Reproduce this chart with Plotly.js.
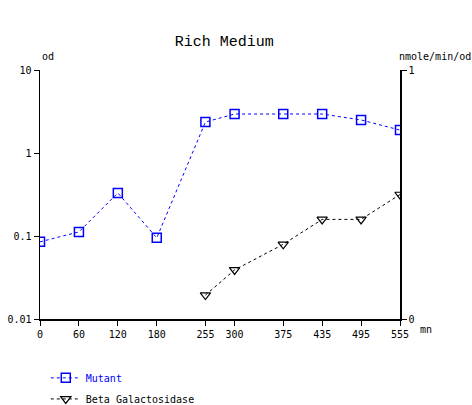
<!DOCTYPE html>
<html><head><meta charset="utf-8">
<script src="https://cdn.plot.ly/plotly-3.0.1.min.js"></script>
<style>body{margin:0;background:#fff}#c{width:472px;height:405px}</style>
</head><body><div id="c"></div>
<script>
const times = [0, 60, 120, 180, 255, 300, 375, 435, 495, 555];
const mutantOD = [0.085, 0.112, 0.33, 0.095, 2.36, 2.95, 2.95, 2.95, 2.5, 1.89];
const betaTimes = [255, 300, 375, 435, 495, 555];
const betaGal = [0.096, 0.197, 0.30, 0.40, 0.40, 0.50];
const leftTicks = [0.01, 0.1, 1, 10];
const leftTickText = ['0.01', '0.1', '1', '10'];

const F = 'DejaVu Sans Mono, monospace';
const traces = [
  {x: times, y: mutantOD, type: 'scatter', mode: 'lines+markers',
   name: '<span style="color:#0000ff">Mutant</span>',
   line: {color: '#0000ff', width: 1, dash: 'dot'},
   marker: {symbol: 'square-open', size: 9, color: '#0000ff', line: {width: 1.5}},
   legend: 'legend'},
  {x: betaTimes, y: betaGal, type: 'scatter', mode: 'lines+markers', yaxis: 'y2',
   name: 'Beta Galactosidase',
   line: {color: '#000000', width: 1, dash: '3px,3px'},
   marker: {symbol: 'triangle-down-open', size: 9, color: '#000000', line: {width: 1.2}},
   legend: 'legend2'}
];
const layout = {
  width: 472, height: 405,
  margin: {l: 40, r: 72, t: 70, b: 86, autoexpand: false},
  paper_bgcolor: '#fff', plot_bgcolor: '#fff',
  font: {family: F, size: 10, color: '#000'},
  title: {text: 'Rich Medium', font: {family: 'Liberation Mono', size: 15, color: '#000'}, x: 0.475, xanchor: 'center', y: 0.9, yanchor: 'middle'},
  showlegend: true,
  legend: {xref: 'container', yref: 'container', x: 0.097, y: 0.067, xanchor: 'left', yanchor: 'middle', bgcolor: 'rgba(0,0,0,0)', font: {family: F, size: 10}},
  legend2: {xref: 'container', yref: 'container', x: 0.097, y: 0.015, xanchor: 'left', yanchor: 'middle', bgcolor: 'rgba(0,0,0,0)', font: {family: F, size: 10, color: '#000'}},
  xaxis: {range: [0, 555], tickvals: times, ticktext: times.map(String), ticks: 'outside', ticklen: 5, tickangle: 0, automargin: false,
          showline: true, linecolor: '#000', linewidth: 1.5, showgrid: false, zeroline: false, tickcolor: '#000', tickfont: {family: F, size: 10}},
  yaxis: {type: 'log', range: [-2, 1], tickvals: leftTicks, ticktext: leftTickText, ticks: 'outside', ticklen: 5, automargin: false,
          showline: true, linecolor: '#000', linewidth: 1.5, showgrid: false, zeroline: false, tickcolor: '#000', tickfont: {family: F, size: 10}},
  yaxis2: {overlaying: 'y', side: 'right', range: [0, 1], tickvals: [0, 1], ticks: 'outside', ticklen: 5, automargin: false,
          showline: true, linecolor: '#000', linewidth: 1.5, showgrid: false, zeroline: false, tickcolor: '#000', tickfont: {family: F, size: 10}},
  annotations: [
    {text: 'od', xref: 'paper', yref: 'paper', x: 0.0, y: 1, xanchor: 'left', yanchor: 'bottom', yshift: 6, showarrow: false, font: {family: F, size: 10}},
    {text: 'nmole/min/od', xref: 'paper', yref: 'paper', x: 1, y: 1, xanchor: 'left', yanchor: 'bottom', xshift: -3, yshift: 6, showarrow: false, font: {family: F, size: 10}},
    {text: 'mn', xref: 'paper', yref: 'paper', x: 1, y: 0, xanchor: 'left', yanchor: 'top', xshift: 18, yshift: -3, showarrow: false, font: {family: F, size: 10}}
  ]
};
Plotly.newPlot('c', traces, layout, {displayModeBar: false, staticPlot: true});
</script></body></html>
